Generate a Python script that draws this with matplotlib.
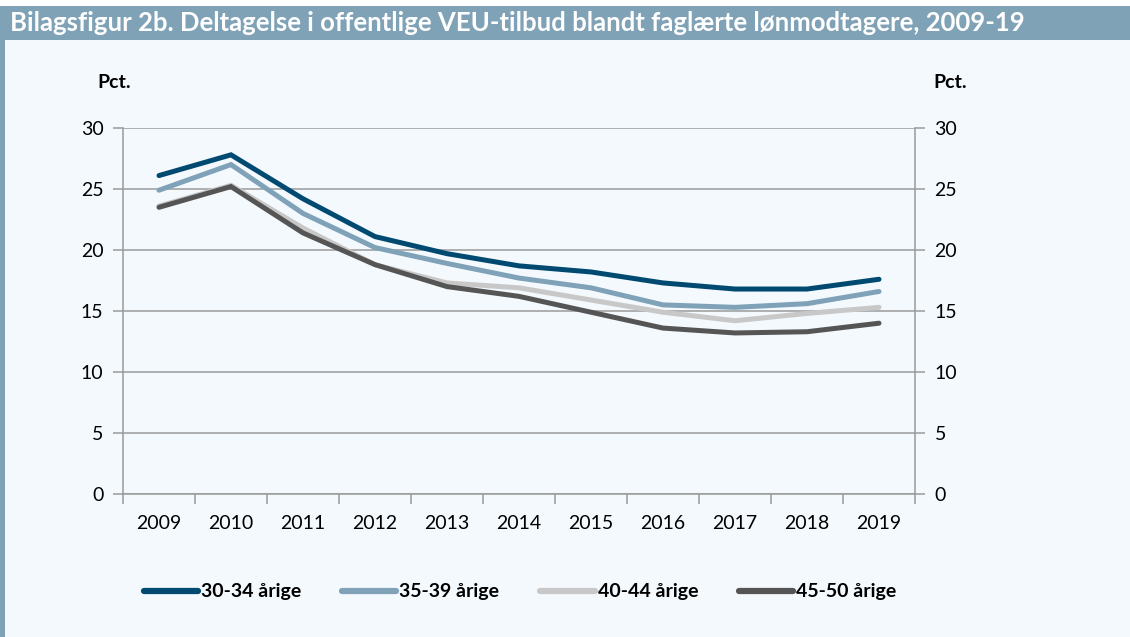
"""Bilagsfigur 2b: deltagelse i offentlige VEU-tilbud blandt faglærte, 2009-19."""

import matplotlib

matplotlib.use("Agg")
import matplotlib.pyplot as plt
from matplotlib.patches import Rectangle

YEARS = ["2009", "2010", "2011", "2012", "2013", "2014", "2015", "2016", "2017", "2018", "2019"]
SERIES_NAMES = ["30-34 årige", "35-39 årige", "40-44 årige", "45-50 årige"]
AGE_30_34 = [26.1, 27.8, 24.2, 21.1, 19.7, 18.7, 18.2, 17.3, 16.8, 16.8, 17.6]
AGE_35_39 = [24.9, 27.0, 23.0, 20.2, 18.9, 17.7, 16.9, 15.5, 15.3, 15.6, 16.6]
AGE_40_44 = [23.6, 25.3, 21.8, 18.8, 17.3, 16.9, 15.9, 14.9, 14.2, 14.8, 15.3]
AGE_45_50 = [23.5, 25.2, 21.4, 18.8, 17.0, 16.2, 14.9, 13.6, 13.2, 13.3, 14.0]
Y_TICKS = [0, 5, 10, 15, 20, 25, 30]

COLORS = ["#004a72", "#7fa2b8", "#c8c8c8", "#555555"]
BAND = "#7fa2b6"
BG = "#f4f9fd"
GRID = "#9a9a9a"

plt.rcParams["font.family"] = ["Lato", "DejaVu Sans"]

fig = plt.figure(figsize=(11.3, 6.37), dpi=100, facecolor=BG)

# title band and left edge bar
fig.patches.append(Rectangle((0, 1 - 40 / 637), 1, 34 / 637, transform=fig.transFigure,
                             facecolor=BAND, edgecolor="none", zorder=0))
fig.patches.append(Rectangle((0, 0), 5 / 1130, 1 - 40 / 637, transform=fig.transFigure,
                             facecolor=BAND, edgecolor="none", zorder=0))
fig.patches.append(Rectangle((0, 1 - 6 / 637), 1, 6 / 637, transform=fig.transFigure,
                             facecolor="white", edgecolor="none", zorder=0))
fig.text(10 / 1130, 1 - 23 / 637,
         "Bilagsfigur 2b. Deltagelse i offentlige VEU-tilbud blandt faglærte lønmodtagere, 2009-19",
         color="white", fontsize=18.5, fontweight="bold", va="center", ha="left")

ax = fig.add_axes([123 / 1130, 1 - 494 / 637, (915 - 123) / 1130, (494 - 128) / 637])
ax.set_facecolor(BG)

x = list(range(len(YEARS)))
for values, name, color in zip([AGE_30_34, AGE_35_39, AGE_40_44, AGE_45_50], SERIES_NAMES, COLORS):
    ax.plot(x, values, color=color, lw=3.6, label=name,
            solid_capstyle="round", solid_joinstyle="miter", zorder=3)

ax.set_ylim(0, 30)
ax.set_yticks(Y_TICKS)
ax.set_xlim(-0.5, len(YEARS) - 0.5)
ax.set_xticks(x)
ax.set_xticklabels(YEARS)
ax.set_xticks([i - 0.5 for i in range(len(YEARS) + 1)], minor=True)
ax.grid(axis="y", color=GRID, lw=1.1, zorder=1)
ax.set_axisbelow(True)

ax.spines["top"].set_visible(False)
for side in ["left", "right", "bottom"]:
    ax.spines[side].set_color(GRID)
    ax.spines[side].set_linewidth(1.1)

ax.tick_params(axis="y", which="major", left=True, right=True, labelleft=True, labelright=True,
               length=7, width=1.1, color=GRID, labelsize=14, pad=7)
ax.tick_params(axis="x", which="major", length=0, labelsize=14, pad=15)
ax.tick_params(axis="x", which="minor", length=7, width=1.1, color=GRID)

fig.text(114 / 1130, 1 - 83 / 637, "Pct.", fontsize=14, fontweight="bold", ha="center", va="center")
fig.text(950 / 1130, 1 - 83 / 637, "Pct.", fontsize=14, fontweight="bold", ha="center", va="center")

leg = fig.legend(loc="center", bbox_to_anchor=(520 / 1130, 1 - 592 / 637), ncol=4, frameon=False,
                 handlelength=2.8, handletextpad=0.15, columnspacing=2.1,
                 prop={"weight": "bold", "size": 14})
for line in leg.get_lines():
    line.set_linewidth(4.5)

fig.savefig("out.png", dpi=100, facecolor=BG)
